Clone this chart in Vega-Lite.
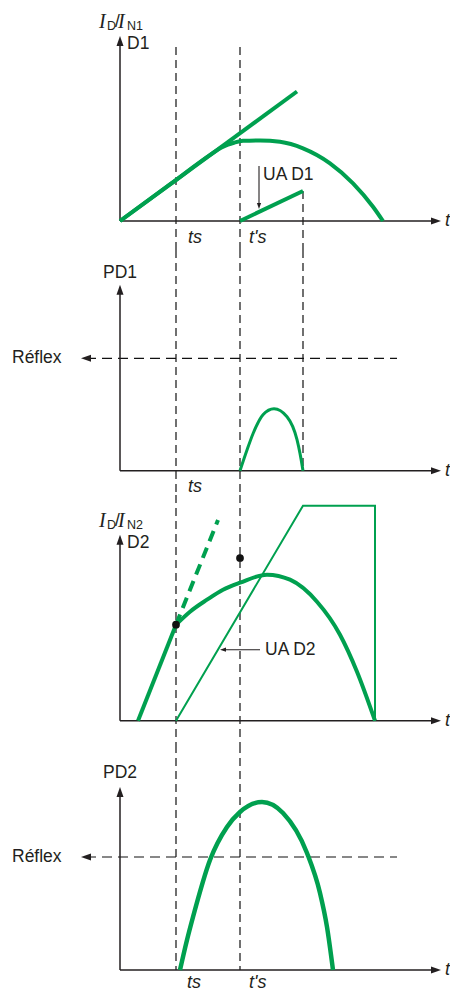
{
  "$schema": "https://vega.github.io/schema/vega-lite/v6.json",
  "padding": 0,
  "spacing": 0,
  "bounds": "flush",
  "config": {"view": {"stroke": null}},
  "datasets": {
    "rules": [
      {"panel": 1, "s": "axis", "t": 0, "y": 0, "t2": 316, "y2": 0},
      {"panel": 1, "s": "axis", "t": 0, "y": 0, "t2": 0, "y2": 180},
      {"panel": 1, "s": "guide", "t": 56, "y": 174, "t2": 56, "y2": -29},
      {"panel": 1, "s": "guide", "t": 120, "y": 174, "t2": 120, "y2": -29},
      {"panel": 1, "s": "guide", "t": 183, "y": 30, "t2": 183, "y2": -29},
      {"panel": 1, "s": "pointer", "t": 139, "y": 55, "t2": 139, "y2": 15},
      {"panel": 2, "s": "axis", "t": 0, "y": 0, "t2": 316, "y2": 0},
      {"panel": 2, "s": "axis", "t": 0, "y": 0, "t2": 0, "y2": 181},
      {"panel": 2, "s": "guide", "t": 56, "y": 220.7, "t2": 56, "y2": -24.3},
      {"panel": 2, "s": "guide", "t": 120, "y": 220.7, "t2": 120, "y2": -24.3},
      {"panel": 2, "s": "guide", "t": 183, "y": 220.7, "t2": 183, "y2": 0},
      {"panel": 2, "s": "reflex", "t": -34, "y": 112.4, "t2": 277, "y2": 112.4},
      {"panel": 3, "s": "axis", "t": 0, "y": 0, "t2": 316, "y2": 0},
      {"panel": 3, "s": "axis", "t": 0, "y": 0, "t2": 0, "y2": 181},
      {"panel": 3, "s": "guide", "t": 56, "y": 225.7, "t2": 56, "y2": -24.3},
      {"panel": 3, "s": "guide", "t": 120, "y": 225.7, "t2": 120, "y2": -24.3},
      {"panel": 3, "s": "pointer", "t": 140, "y": 71, "t2": 103, "y2": 71},
      {"panel": 4, "s": "axis", "t": 0, "y": 0, "t2": 316, "y2": 0},
      {"panel": 4, "s": "axis", "t": 0, "y": 0, "t2": 0, "y2": 178},
      {"panel": 4, "s": "guide", "t": 56, "y": 225, "t2": 56, "y2": 0},
      {"panel": 4, "s": "guide", "t": 120, "y": 225, "t2": 120, "y2": 0},
      {"panel": 4, "s": "reflex", "t": -34, "y": 113, "t2": 277, "y2": 113}
    ],
    "heads": [
      {"panel": 1, "s": "axis", "dir": "right", "t": 316, "y": 0},
      {"panel": 1, "s": "axis", "dir": "up", "t": 0, "y": 180},
      {"panel": 1, "s": "pointer", "dir": "down", "t": 139, "y": 15},
      {"panel": 2, "s": "axis", "dir": "right", "t": 316, "y": 0},
      {"panel": 2, "s": "axis", "dir": "up", "t": 0, "y": 181},
      {"panel": 2, "s": "axis", "dir": "left", "t": -34, "y": 112.4},
      {"panel": 3, "s": "axis", "dir": "right", "t": 316, "y": 0},
      {"panel": 3, "s": "axis", "dir": "up", "t": 0, "y": 181},
      {"panel": 3, "s": "pointer", "dir": "left", "t": 103, "y": 71},
      {"panel": 4, "s": "axis", "dir": "right", "t": 316, "y": 0},
      {"panel": 4, "s": "axis", "dir": "up", "t": 0, "y": 178},
      {"panel": 4, "s": "axis", "dir": "left", "t": -34, "y": 113}
    ],
    "lines": [
      {"panel": 1, "s": "line1", "i": 0, "t": 0, "y": 0},
      {"panel": 1, "s": "line1", "i": 1, "t": 177, "y": 129.5},
      {"panel": 1, "s": "ua1", "i": 0, "t": 120, "y": 0},
      {"panel": 1, "s": "ua1", "i": 1, "t": 183, "y": 30},
      {"panel": 3, "s": "rise2", "i": 0, "t": 18, "y": 0},
      {"panel": 3, "s": "rise2", "i": 1, "t": 56, "y": 96},
      {"panel": 3, "s": "dash2", "i": 0, "t": 56, "y": 96},
      {"panel": 3, "s": "dash2", "i": 1, "t": 98, "y": 200.7},
      {"panel": 3, "s": "ua2", "i": 0, "t": 56, "y": 0},
      {"panel": 3, "s": "ua2", "i": 1, "t": 183, "y": 215},
      {"panel": 3, "s": "ua2", "i": 2, "t": 255, "y": 215},
      {"panel": 3, "s": "ua2", "i": 3, "t": 255, "y": 0}
    ],
    "curves": [
      {"panel": 1, "s": "c1", "t": 0, "y": 0},
      {"panel": 1, "s": "c1", "t": 50, "y": 36.6},
      {"panel": 1, "s": "c1", "t": 92, "y": 67.3},
      {"panel": 1, "s": "c1", "t": 101, "y": 73.2},
      {"panel": 1, "s": "c1", "t": 108, "y": 76.4},
      {"panel": 1, "s": "c1", "t": 114, "y": 78.3},
      {"panel": 1, "s": "c1", "t": 123, "y": 80.2},
      {"panel": 1, "s": "c1", "t": 140, "y": 80.6},
      {"panel": 1, "s": "c1", "t": 160, "y": 79.3},
      {"panel": 1, "s": "c1", "t": 183, "y": 72.7},
      {"panel": 1, "s": "c1", "t": 210, "y": 57.7},
      {"panel": 1, "s": "c1", "t": 233, "y": 37.7},
      {"panel": 1, "s": "c1", "t": 253, "y": 14.3},
      {"panel": 1, "s": "c1", "t": 263, "y": 0},
      {"panel": 2, "s": "pd1", "t": 120, "y": 0},
      {"panel": 2, "s": "pd1", "t": 127, "y": 20.7},
      {"panel": 2, "s": "pd1", "t": 133, "y": 37},
      {"panel": 2, "s": "pd1", "t": 143, "y": 56},
      {"panel": 2, "s": "pd1", "t": 154, "y": 62},
      {"panel": 2, "s": "pd1", "t": 167, "y": 54},
      {"panel": 2, "s": "pd1", "t": 177, "y": 31},
      {"panel": 2, "s": "pd1", "t": 180, "y": 17.3},
      {"panel": 2, "s": "pd1", "t": 183, "y": 0},
      {"panel": 3, "s": "c2", "t": 56, "y": 96},
      {"panel": 3, "s": "c2", "t": 70, "y": 109},
      {"panel": 3, "s": "c2", "t": 87, "y": 121},
      {"panel": 3, "s": "c2", "t": 103, "y": 131},
      {"panel": 3, "s": "c2", "t": 120, "y": 138},
      {"panel": 3, "s": "c2", "t": 147, "y": 146},
      {"panel": 3, "s": "c2", "t": 170, "y": 141},
      {"panel": 3, "s": "c2", "t": 197, "y": 119},
      {"panel": 3, "s": "c2", "t": 220, "y": 86},
      {"panel": 3, "s": "c2", "t": 237, "y": 49},
      {"panel": 3, "s": "c2", "t": 255, "y": 0},
      {"panel": 4, "s": "pd2", "t": 60, "y": 0},
      {"panel": 4, "s": "pd2", "t": 67, "y": 30},
      {"panel": 4, "s": "pd2", "t": 73, "y": 53},
      {"panel": 4, "s": "pd2", "t": 90, "y": 110},
      {"panel": 4, "s": "pd2", "t": 107, "y": 143},
      {"panel": 4, "s": "pd2", "t": 120, "y": 158},
      {"panel": 4, "s": "pd2", "t": 142, "y": 168},
      {"panel": 4, "s": "pd2", "t": 163, "y": 157},
      {"panel": 4, "s": "pd2", "t": 187, "y": 117},
      {"panel": 4, "s": "pd2", "t": 200, "y": 77},
      {"panel": 4, "s": "pd2", "t": 207, "y": 43},
      {"panel": 4, "s": "pd2", "t": 213, "y": 0}
    ],
    "dots": [
      {"panel": 3, "t": 56, "y": 96},
      {"panel": 3, "t": 120, "y": 162.7}
    ],
    "labels": [
      {"panel": 1, "role": "var", "text": "I", "t": -21, "y": 199.5},
      {"panel": 1, "role": "sub", "text": "D", "t": -13, "y": 195.5},
      {"panel": 1, "role": "name", "text": "/", "t": -5, "y": 199.5},
      {"panel": 1, "role": "var", "text": "I", "t": -2, "y": 199.5},
      {"panel": 1, "role": "sub", "text": "N1", "t": 7, "y": 195.5},
      {"panel": 1, "role": "name", "text": "D1", "t": 7, "y": 177.5},
      {"panel": 1, "role": "name", "text": "UA D1", "t": 143, "y": 46},
      {"panel": 1, "role": "time", "text": "ts", "t": 68, "y": -16.5},
      {"panel": 1, "role": "time", "text": "t's", "t": 129, "y": -16.5},
      {"panel": 1, "role": "time", "text": "t", "t": 325, "y": 0},
      {"panel": 2, "role": "name", "text": "PD1", "t": -17, "y": 198},
      {"panel": 2, "role": "name", "text": "Réflex", "t": -108, "y": 112.4},
      {"panel": 2, "role": "time", "text": "ts", "t": 68, "y": -16},
      {"panel": 2, "role": "time", "text": "t", "t": 325, "y": 0},
      {"panel": 3, "role": "var", "text": "I", "t": -21, "y": 199.5},
      {"panel": 3, "role": "sub", "text": "D", "t": -13, "y": 195.5},
      {"panel": 3, "role": "name", "text": "/", "t": -5, "y": 199.5},
      {"panel": 3, "role": "var", "text": "I", "t": -2, "y": 199.5},
      {"panel": 3, "role": "sub", "text": "N2", "t": 7, "y": 195.5},
      {"panel": 3, "role": "name", "text": "D2", "t": 7, "y": 177.5},
      {"panel": 3, "role": "name", "text": "UA D2", "t": 145, "y": 71},
      {"panel": 3, "role": "time", "text": "t", "t": 325, "y": 0},
      {"panel": 4, "role": "name", "text": "PD2", "t": -17, "y": 197},
      {"panel": 4, "role": "name", "text": "Réflex", "t": -108, "y": 113},
      {"panel": 4, "role": "time", "text": "ts", "t": 67, "y": -13},
      {"panel": 4, "role": "time", "text": "t's", "t": 129, "y": -13},
      {"panel": 4, "role": "time", "text": "t", "t": 325, "y": 0}
    ]
  },
  "vconcat": [
    {
      "width": 450, "height": 250,
      "encoding": {
        "x": {"field": "t", "type": "quantitative", "scale": {"domain": [-120, 330], "nice": false, "zero": false}, "axis": null},
        "y": {"field": "y", "type": "quantitative", "scale": {"domain": [-29, 221], "nice": false, "zero": false}, "axis": null}
      },
      "layer": [
        {"data": {"name": "rules"}, "transform": [{"filter": "datum.panel==1 && datum.s=='guide'"}], "mark": {"type": "rule", "color": "#111111", "strokeWidth": 1.2, "strokeDash": [8, 5]}, "encoding": {"x2": {"field": "t2"}, "y2": {"field": "y2"}}},
        {"data": {"name": "rules"}, "transform": [{"filter": "datum.panel==1 && datum.s=='axis'"}], "mark": {"type": "rule", "color": "#231f20", "strokeWidth": 1.5}, "encoding": {"x2": {"field": "t2"}, "y2": {"field": "y2"}}},
        {"data": {"name": "rules"}, "transform": [{"filter": "datum.panel==1 && datum.s=='pointer'"}], "mark": {"type": "rule", "color": "#231f20", "strokeWidth": 1.1}, "encoding": {"x2": {"field": "t2"}, "y2": {"field": "y2"}}},
        {"data": {"name": "lines"}, "transform": [{"filter": "datum.panel==1"}], "mark": {"type": "line", "color": "#00a04f", "strokeWidth": 4}, "encoding": {"detail": {"field": "s"}, "order": {"field": "i"}}},
        {"data": {"name": "curves"}, "transform": [{"filter": "datum.panel==1"}], "mark": {"type": "line", "color": "#00a04f", "strokeWidth": 4, "interpolate": "monotone"}, "encoding": {"detail": {"field": "s"}}},
        {"data": {"name": "heads"}, "transform": [{"filter": "datum.panel==1"}], "mark": {"type": "point", "filled": true, "opacity": 1, "color": "#231f20", "strokeWidth": 0},
         "encoding": {
           "shape": {"field": "dir", "type": "nominal", "scale": {"domain": ["up","down","left","right"], "range": ["M0,-1L0.7,1L-0.7,1Z","M0,1L-0.7,-1L0.7,-1Z","M-1,0L1,-0.7L1,0.7Z","M1,0L-1,0.7L-1,-0.7Z"]}, "legend": null},
           "size": {"field": "s", "type": "ordinal", "scale": {"domain": ["axis","pointer"], "range": [100,36]}, "legend": null}}},
        {"data": {"name": "labels"}, "transform": [{"filter": "datum.panel==1 && datum.role=='name'"}], "mark": {"type": "text", "align": "left", "baseline": "middle", "font": "Liberation Sans", "fontSize": 17.5, "color": "#231f20"}, "encoding": {"text": {"field": "text"}}},
        {"data": {"name": "labels"}, "transform": [{"filter": "datum.panel==1 && datum.role=='sub'"}], "mark": {"type": "text", "align": "left", "baseline": "middle", "font": "Liberation Sans", "fontSize": 12.5, "color": "#231f20"}, "encoding": {"text": {"field": "text"}}},
        {"data": {"name": "labels"}, "transform": [{"filter": "datum.panel==1 && datum.role=='var'"}], "mark": {"type": "text", "align": "left", "baseline": "middle", "font": "Liberation Serif", "fontStyle": "italic", "fontSize": 20, "color": "#231f20"}, "encoding": {"text": {"field": "text"}}},
        {"data": {"name": "labels"}, "transform": [{"filter": "datum.panel==1 && datum.role=='time'"}], "mark": {"type": "text", "align": "left", "baseline": "middle", "font": "Liberation Sans", "fontStyle": "italic", "fontSize": 18, "color": "#231f20"}, "encoding": {"text": {"field": "text"}}}
      ]
    },
    {
      "width": 450, "height": 245,
      "encoding": {
        "x": {"field": "t", "type": "quantitative", "scale": {"domain": [-120, 330], "nice": false, "zero": false}, "axis": null},
        "y": {"field": "y", "type": "quantitative", "scale": {"domain": [-24.3, 220.7], "nice": false, "zero": false}, "axis": null}
      },
      "layer": [
        {"data": {"name": "rules"}, "transform": [{"filter": "datum.panel==2 && datum.s=='guide'"}], "mark": {"type": "rule", "color": "#111111", "strokeWidth": 1.2, "strokeDash": [8, 5]}, "encoding": {"x2": {"field": "t2"}, "y2": {"field": "y2"}}},
        {"data": {"name": "rules"}, "transform": [{"filter": "datum.panel==2 && datum.s=='reflex'"}], "mark": {"type": "rule", "color": "#111111", "strokeWidth": 1.2, "strokeDash": [10, 6]}, "encoding": {"x2": {"field": "t2"}, "y2": {"field": "y2"}}},
        {"data": {"name": "rules"}, "transform": [{"filter": "datum.panel==2 && datum.s=='axis'"}], "mark": {"type": "rule", "color": "#231f20", "strokeWidth": 1.5}, "encoding": {"x2": {"field": "t2"}, "y2": {"field": "y2"}}},
        {"data": {"name": "curves"}, "transform": [{"filter": "datum.panel==2"}], "mark": {"type": "line", "color": "#00a04f", "strokeWidth": 3, "interpolate": "monotone"}, "encoding": {"detail": {"field": "s"}}},
        {"data": {"name": "heads"}, "transform": [{"filter": "datum.panel==2"}], "mark": {"type": "point", "filled": true, "opacity": 1, "color": "#231f20", "strokeWidth": 0},
         "encoding": {
           "shape": {"field": "dir", "type": "nominal", "scale": {"domain": ["up","down","left","right"], "range": ["M0,-1L0.7,1L-0.7,1Z","M0,1L-0.7,-1L0.7,-1Z","M-1,0L1,-0.7L1,0.7Z","M1,0L-1,0.7L-1,-0.7Z"]}, "legend": null},
           "size": {"field": "s", "type": "ordinal", "scale": {"domain": ["axis","pointer"], "range": [100,36]}, "legend": null}}},
        {"data": {"name": "labels"}, "transform": [{"filter": "datum.panel==2 && datum.role=='name'"}], "mark": {"type": "text", "align": "left", "baseline": "middle", "font": "Liberation Sans", "fontSize": 17.5, "color": "#231f20"}, "encoding": {"text": {"field": "text"}}},
        {"data": {"name": "labels"}, "transform": [{"filter": "datum.panel==2 && datum.role=='time'"}], "mark": {"type": "text", "align": "left", "baseline": "middle", "font": "Liberation Sans", "fontStyle": "italic", "fontSize": 18, "color": "#231f20"}, "encoding": {"text": {"field": "text"}}}
      ]
    },
    {
      "width": 450, "height": 250,
      "encoding": {
        "x": {"field": "t", "type": "quantitative", "scale": {"domain": [-120, 330], "nice": false, "zero": false}, "axis": null},
        "y": {"field": "y", "type": "quantitative", "scale": {"domain": [-24.3, 225.7], "nice": false, "zero": false}, "axis": null}
      },
      "layer": [
        {"data": {"name": "rules"}, "transform": [{"filter": "datum.panel==3 && datum.s=='guide'"}], "mark": {"type": "rule", "color": "#111111", "strokeWidth": 1.2, "strokeDash": [8, 5]}, "encoding": {"x2": {"field": "t2"}, "y2": {"field": "y2"}}},
        {"data": {"name": "rules"}, "transform": [{"filter": "datum.panel==3 && datum.s=='axis'"}], "mark": {"type": "rule", "color": "#231f20", "strokeWidth": 1.5}, "encoding": {"x2": {"field": "t2"}, "y2": {"field": "y2"}}},
        {"data": {"name": "rules"}, "transform": [{"filter": "datum.panel==3 && datum.s=='pointer'"}], "mark": {"type": "rule", "color": "#231f20", "strokeWidth": 1.1}, "encoding": {"x2": {"field": "t2"}, "y2": {"field": "y2"}}},
        {"data": {"name": "lines"}, "transform": [{"filter": "datum.panel==3 && datum.s=='ua2'"}], "mark": {"type": "line", "color": "#00a04f", "strokeWidth": 2}, "encoding": {"detail": {"field": "s"}, "order": {"field": "i"}}},
        {"data": {"name": "lines"}, "transform": [{"filter": "datum.panel==3 && datum.s=='rise2'"}], "mark": {"type": "line", "color": "#00a04f", "strokeWidth": 4}, "encoding": {"detail": {"field": "s"}, "order": {"field": "i"}}},
        {"data": {"name": "lines"}, "transform": [{"filter": "datum.panel==3 && datum.s=='dash2'"}], "mark": {"type": "line", "color": "#00a04f", "strokeWidth": 4, "strokeDash": [11, 7]}, "encoding": {"detail": {"field": "s"}, "order": {"field": "i"}}},
        {"data": {"name": "curves"}, "transform": [{"filter": "datum.panel==3"}], "mark": {"type": "line", "color": "#00a04f", "strokeWidth": 4, "interpolate": "monotone"}, "encoding": {"detail": {"field": "s"}}},
        {"data": {"name": "heads"}, "transform": [{"filter": "datum.panel==3"}], "mark": {"type": "point", "filled": true, "opacity": 1, "color": "#231f20", "strokeWidth": 0},
         "encoding": {
           "shape": {"field": "dir", "type": "nominal", "scale": {"domain": ["up","down","left","right"], "range": ["M0,-1L0.7,1L-0.7,1Z","M0,1L-0.7,-1L0.7,-1Z","M-1,0L1,-0.7L1,0.7Z","M1,0L-1,0.7L-1,-0.7Z"]}, "legend": null},
           "size": {"field": "s", "type": "ordinal", "scale": {"domain": ["axis","pointer"], "range": [100,36]}, "legend": null}}},
        {"data": {"name": "dots"}, "transform": [{"filter": "datum.panel==3"}], "mark": {"type": "circle", "size": 60, "opacity": 1, "color": "#111111"}},
        {"data": {"name": "labels"}, "transform": [{"filter": "datum.panel==3 && datum.role=='name'"}], "mark": {"type": "text", "align": "left", "baseline": "middle", "font": "Liberation Sans", "fontSize": 17.5, "color": "#231f20"}, "encoding": {"text": {"field": "text"}}},
        {"data": {"name": "labels"}, "transform": [{"filter": "datum.panel==3 && datum.role=='sub'"}], "mark": {"type": "text", "align": "left", "baseline": "middle", "font": "Liberation Sans", "fontSize": 12.5, "color": "#231f20"}, "encoding": {"text": {"field": "text"}}},
        {"data": {"name": "labels"}, "transform": [{"filter": "datum.panel==3 && datum.role=='var'"}], "mark": {"type": "text", "align": "left", "baseline": "middle", "font": "Liberation Serif", "fontStyle": "italic", "fontSize": 20, "color": "#231f20"}, "encoding": {"text": {"field": "text"}}},
        {"data": {"name": "labels"}, "transform": [{"filter": "datum.panel==3 && datum.role=='time'"}], "mark": {"type": "text", "align": "left", "baseline": "middle", "font": "Liberation Sans", "fontStyle": "italic", "fontSize": 18, "color": "#231f20"}, "encoding": {"text": {"field": "text"}}}
      ]
    },
    {
      "width": 450, "height": 246,
      "encoding": {
        "x": {"field": "t", "type": "quantitative", "scale": {"domain": [-120, 330], "nice": false, "zero": false}, "axis": null},
        "y": {"field": "y", "type": "quantitative", "scale": {"domain": [-21, 225], "nice": false, "zero": false}, "axis": null}
      },
      "layer": [
        {"data": {"name": "rules"}, "transform": [{"filter": "datum.panel==4 && datum.s=='guide'"}], "mark": {"type": "rule", "color": "#111111", "strokeWidth": 1.2, "strokeDash": [8, 5]}, "encoding": {"x2": {"field": "t2"}, "y2": {"field": "y2"}}},
        {"data": {"name": "rules"}, "transform": [{"filter": "datum.panel==4 && datum.s=='reflex'"}], "mark": {"type": "rule", "color": "#111111", "strokeWidth": 1.2, "strokeDash": [10, 6]}, "encoding": {"x2": {"field": "t2"}, "y2": {"field": "y2"}}},
        {"data": {"name": "rules"}, "transform": [{"filter": "datum.panel==4 && datum.s=='axis'"}], "mark": {"type": "rule", "color": "#231f20", "strokeWidth": 1.5}, "encoding": {"x2": {"field": "t2"}, "y2": {"field": "y2"}}},
        {"data": {"name": "curves"}, "transform": [{"filter": "datum.panel==4"}], "mark": {"type": "line", "color": "#00a04f", "strokeWidth": 4.5, "interpolate": "monotone"}, "encoding": {"detail": {"field": "s"}}},
        {"data": {"name": "heads"}, "transform": [{"filter": "datum.panel==4"}], "mark": {"type": "point", "filled": true, "opacity": 1, "color": "#231f20", "strokeWidth": 0},
         "encoding": {
           "shape": {"field": "dir", "type": "nominal", "scale": {"domain": ["up","down","left","right"], "range": ["M0,-1L0.7,1L-0.7,1Z","M0,1L-0.7,-1L0.7,-1Z","M-1,0L1,-0.7L1,0.7Z","M1,0L-1,0.7L-1,-0.7Z"]}, "legend": null},
           "size": {"field": "s", "type": "ordinal", "scale": {"domain": ["axis","pointer"], "range": [100,36]}, "legend": null}}},
        {"data": {"name": "labels"}, "transform": [{"filter": "datum.panel==4 && datum.role=='name'"}], "mark": {"type": "text", "align": "left", "baseline": "middle", "font": "Liberation Sans", "fontSize": 17.5, "color": "#231f20"}, "encoding": {"text": {"field": "text"}}},
        {"data": {"name": "labels"}, "transform": [{"filter": "datum.panel==4 && datum.role=='time'"}], "mark": {"type": "text", "align": "left", "baseline": "middle", "font": "Liberation Sans", "fontStyle": "italic", "fontSize": 18, "color": "#231f20"}, "encoding": {"text": {"field": "text"}}}
      ]
    }
  ]
}
